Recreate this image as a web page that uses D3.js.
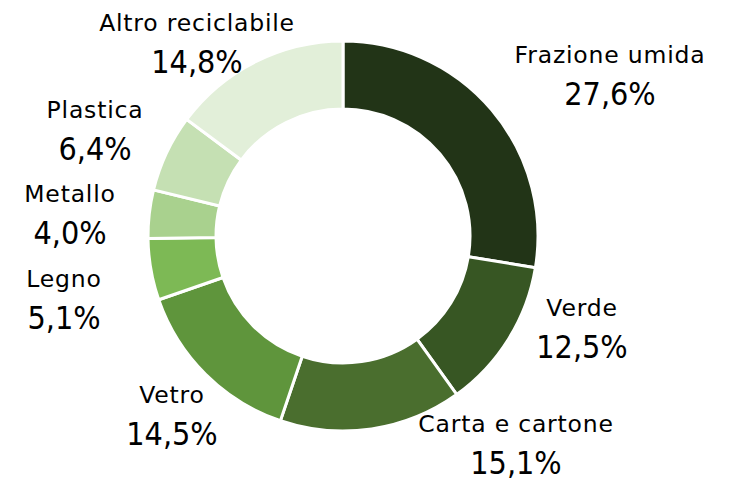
<!DOCTYPE html>
<html>
<head>
<meta charset="UTF-8">
<style>
  body { margin: 0; background: #fff; }
  text { fill: #000; text-anchor: middle; }
  .name { font-family: "DejaVu Sans", sans-serif; font-size: 23.5px; letter-spacing: 0.8px; }
  .pct { font-family: "DejaVu Sans Condensed", "DejaVu Sans", sans-serif; font-size: 32px; }
</style>
</head>
<body>
<svg id="chart" width="731" height="483"></svg>
<script src="https://cdn.jsdelivr.net/npm/d3@7"></script>
<script>
var categories = ["Frazione umida", "Verde", "Carta e cartone", "Vetro", "Legno", "Metallo", "Plastica", "Altro reciclabile"];
var values = [27.6, 12.5, 15.1, 14.5, 5.1, 4.0, 6.4, 14.8];
var colors = ["#223417", "#375623", "#4a6e2e", "#5f953c", "#7db955", "#a9d18e", "#c5e0b3", "#e2efd9"];
// label anchor points (name centre x, name baseline y), placed like the original
var labelPos = [[610, 63], [582, 316], [516, 432], [172, 403], [64, 287], [70, 202], [95, 118], [197, 31]];

var width = 731, height = 483;
var cx = 343, cy = 236, outerR = 195, innerR = 127;

var svg = d3.select("#chart");
var data = categories.map(function(c, i) { return { name: c, value: values[i], color: colors[i], pos: labelPos[i] }; });

var pie = d3.pie().value(function(d) { return d.value; }).sort(null);
var arc = d3.arc().innerRadius(innerR).outerRadius(outerR);

var g = svg.append("g").attr("transform", "translate(" + cx + "," + cy + ")");
g.selectAll("path")
  .data(pie(data))
  .enter().append("path")
  .attr("d", arc)
  .attr("fill", function(d) { return d.data.color; })
  .attr("stroke", "#fff")
  .attr("stroke-width", 3)
  .attr("stroke-linejoin", "miter");

var fmt = function(v) { return d3.format(".1f")(v).replace(".", ",") + "%"; };

var lab = svg.selectAll("g.label").data(data).enter().append("g").attr("class", "label");
lab.append("text").attr("class", "name")
  .attr("x", function(d) { return d.pos[0]; })
  .attr("y", function(d) { return d.pos[1]; })
  .text(function(d) { return d.name; });
lab.append("text").attr("class", "pct")
  .attr("x", function(d) { return d.pos[0]; })
  .attr("y", function(d) { return d.pos[1] + 42; })
  .text(function(d) { return fmt(d.value); });
</script>
</body>
</html>
